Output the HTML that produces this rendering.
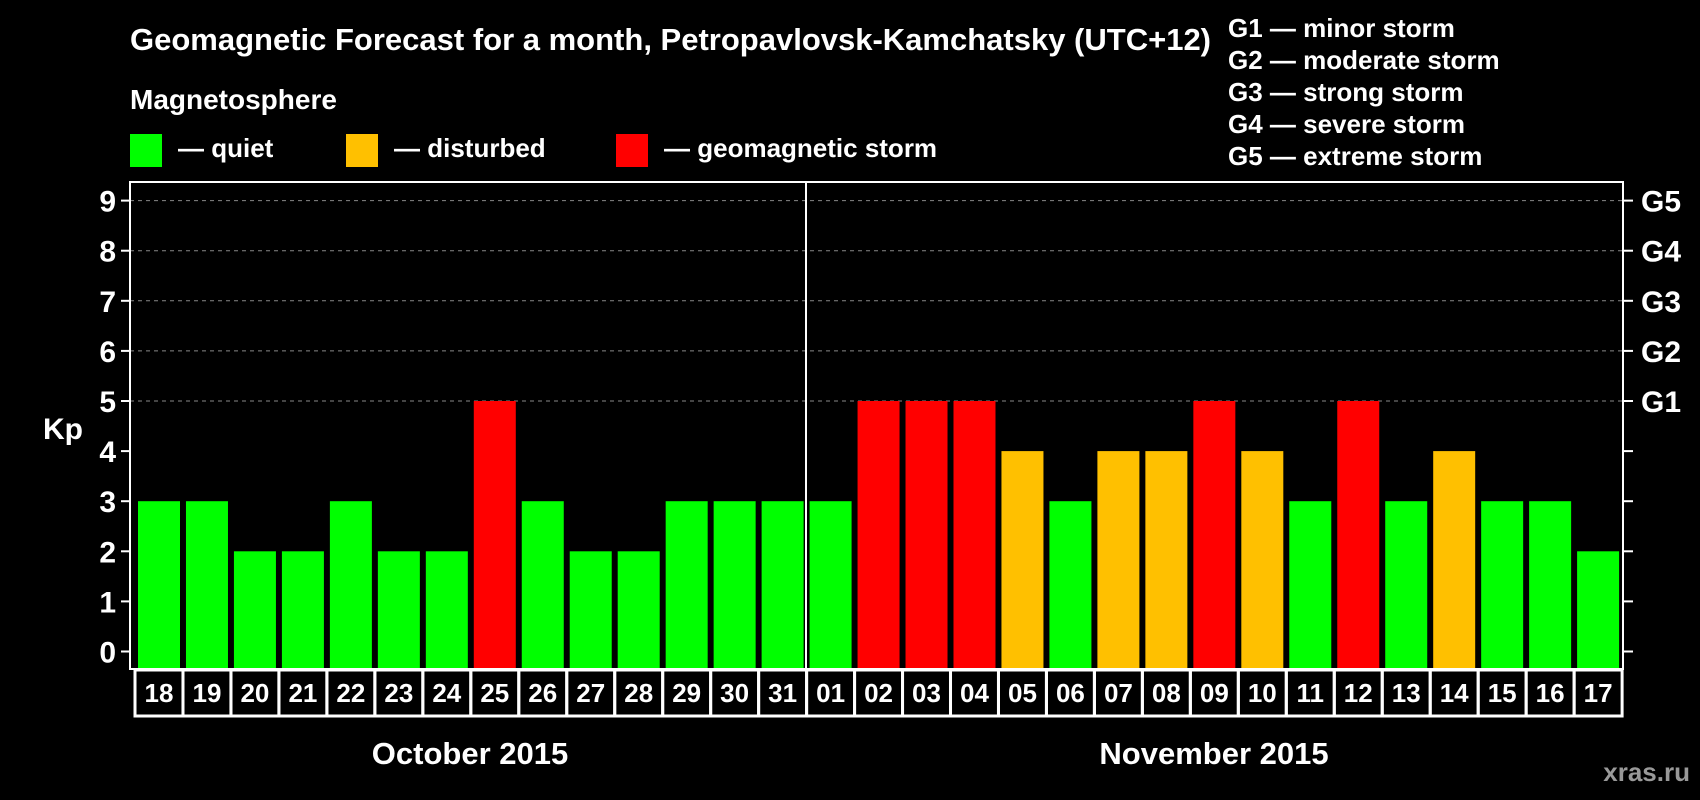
<!DOCTYPE html>
<html><head><meta charset="utf-8"><style>
html,body{margin:0;padding:0;background:#000;}
svg{display:block;font-family:"Liberation Sans",sans-serif;font-weight:bold;}
</style></head><body>
<svg id="chart" width="1700" height="800" viewBox="0 0 1700 800">
<text x="130" y="50" fill="#fff" font-size="31">Geomagnetic Forecast for a month, Petropavlovsk-Kamchatsky (UTC+12)</text>
<text x="130" y="109" fill="#fff" font-size="28">Magnetosphere</text>
<g><rect x="130" y="134" width="32" height="33" fill="#00ff00"/><text x="178" y="157" fill="#fff" font-size="26">— quiet</text></g>
<g><rect x="346" y="134" width="32" height="33" fill="#ffc000"/><text x="394" y="157" fill="#fff" font-size="26">— disturbed</text></g>
<g><rect x="616" y="134" width="32" height="33" fill="#ff0000"/><text x="664" y="157" fill="#fff" font-size="26">— geomagnetic storm</text></g>
<g fill="#fff" font-size="26">
<text x="1228" y="37">G1 — minor storm</text>
<text x="1228" y="69">G2 — moderate storm</text>
<text x="1228" y="101">G3 — strong storm</text>
<text x="1228" y="133">G4 — severe storm</text>
<text x="1228" y="165">G5 — extreme storm</text>
</g>
<text x="63" y="439" fill="#fff" font-size="30" text-anchor="middle">Kp</text>
<g id="grid"></g><g id="bars"></g><g id="axes"></g><g id="labels"></g>
<text x="470" y="764" fill="#fff" font-size="31" text-anchor="middle">October 2015</text>
<text x="1214" y="764" fill="#fff" font-size="31" text-anchor="middle">November 2015</text>
<text x="1690" y="781" fill="#999" font-size="26" text-anchor="end">xras.ru</text>
</svg>
<script>
const days = ["18","19","20","21","22","23","24","25","26","27","28","29","30","31","01","02","03","04","05","06","07","08","09","10","11","12","13","14","15","16","17"];
const kp = [3,3,2,2,3,2,2,5,3,2,2,3,3,3,3,5,5,5,4,3,4,4,5,4,3,5,3,4,3,3,2];
const yTicks = [0,1,2,3,4,5,6,7,8,9];
const gLabels = ["G1","G2","G3","G4","G5"];
const gLevels = [5,6,7,8,9];
const NS="http://www.w3.org/2000/svg";
const L=130,R=1623,T=182,B=669,x0=138,pitch=47.97,bw=42;
const y=v=>651.5-v*50.1;
const xb=i=>x0+i*pitch;
function mk(t,a,p){const e=document.createElementNS(NS,t);for(const k in a)e.setAttribute(k,a[k]);p.appendChild(e);return e;}
const grid=document.getElementById('grid'),bars=document.getElementById('bars'),axes=document.getElementById('axes'),labels=document.getElementById('labels');
gLevels.forEach((v,i)=>{
 const l=mk('line',{x1:L,x2:R,y1:y(v),y2:y(v),stroke:'#888','stroke-width':1,'stroke-dasharray':'4,4'},grid);
 
 
 const t=mk('text',{x:1641,y:y(v)+11,fill:'#fff','font-size':30},axes);t.textContent=gLabels[i];
 
 
});
kp.forEach((v,i)=>{
 const c=v>=5?'#ff0000':(v>=4?'#ffc000':'#00ff00');
 const r=mk('rect',{x:xb(i),y:y(v),width:bw,height:B-y(v),fill:c},bars);
 
 
 const cell=mk('rect',{x:xb(i)-3,y:670,width:48,height:46,fill:'none',stroke:'#fff','stroke-width':3},labels);
 
 
 const t=mk('text',{x:xb(i)+bw/2,y:702,fill:'#fff','font-size':26,'text-anchor':'middle'},labels);t.textContent=days[i];
 
 
});
const fr=mk('rect',{x:L,y:T,width:R-L,height:B-T,fill:'none',stroke:'#fff','stroke-width':2},axes);


const dv=mk('line',{x1:806,x2:806,y1:T,y2:B,stroke:'#fff','stroke-width':2},axes);


yTicks.forEach(v=>{
 mk('line',{x1:121,x2:L,y1:y(v),y2:y(v),stroke:'#fff','stroke-width':2},axes);
 mk('line',{x1:R,x2:1633,y1:y(v),y2:y(v),stroke:'#fff','stroke-width':2},axes);
 const t=mk('text',{x:116,y:y(v)+11,fill:'#fff','font-size':30,'text-anchor':'end'},axes);t.textContent=v;
 
 
});
</script>
</body></html>
